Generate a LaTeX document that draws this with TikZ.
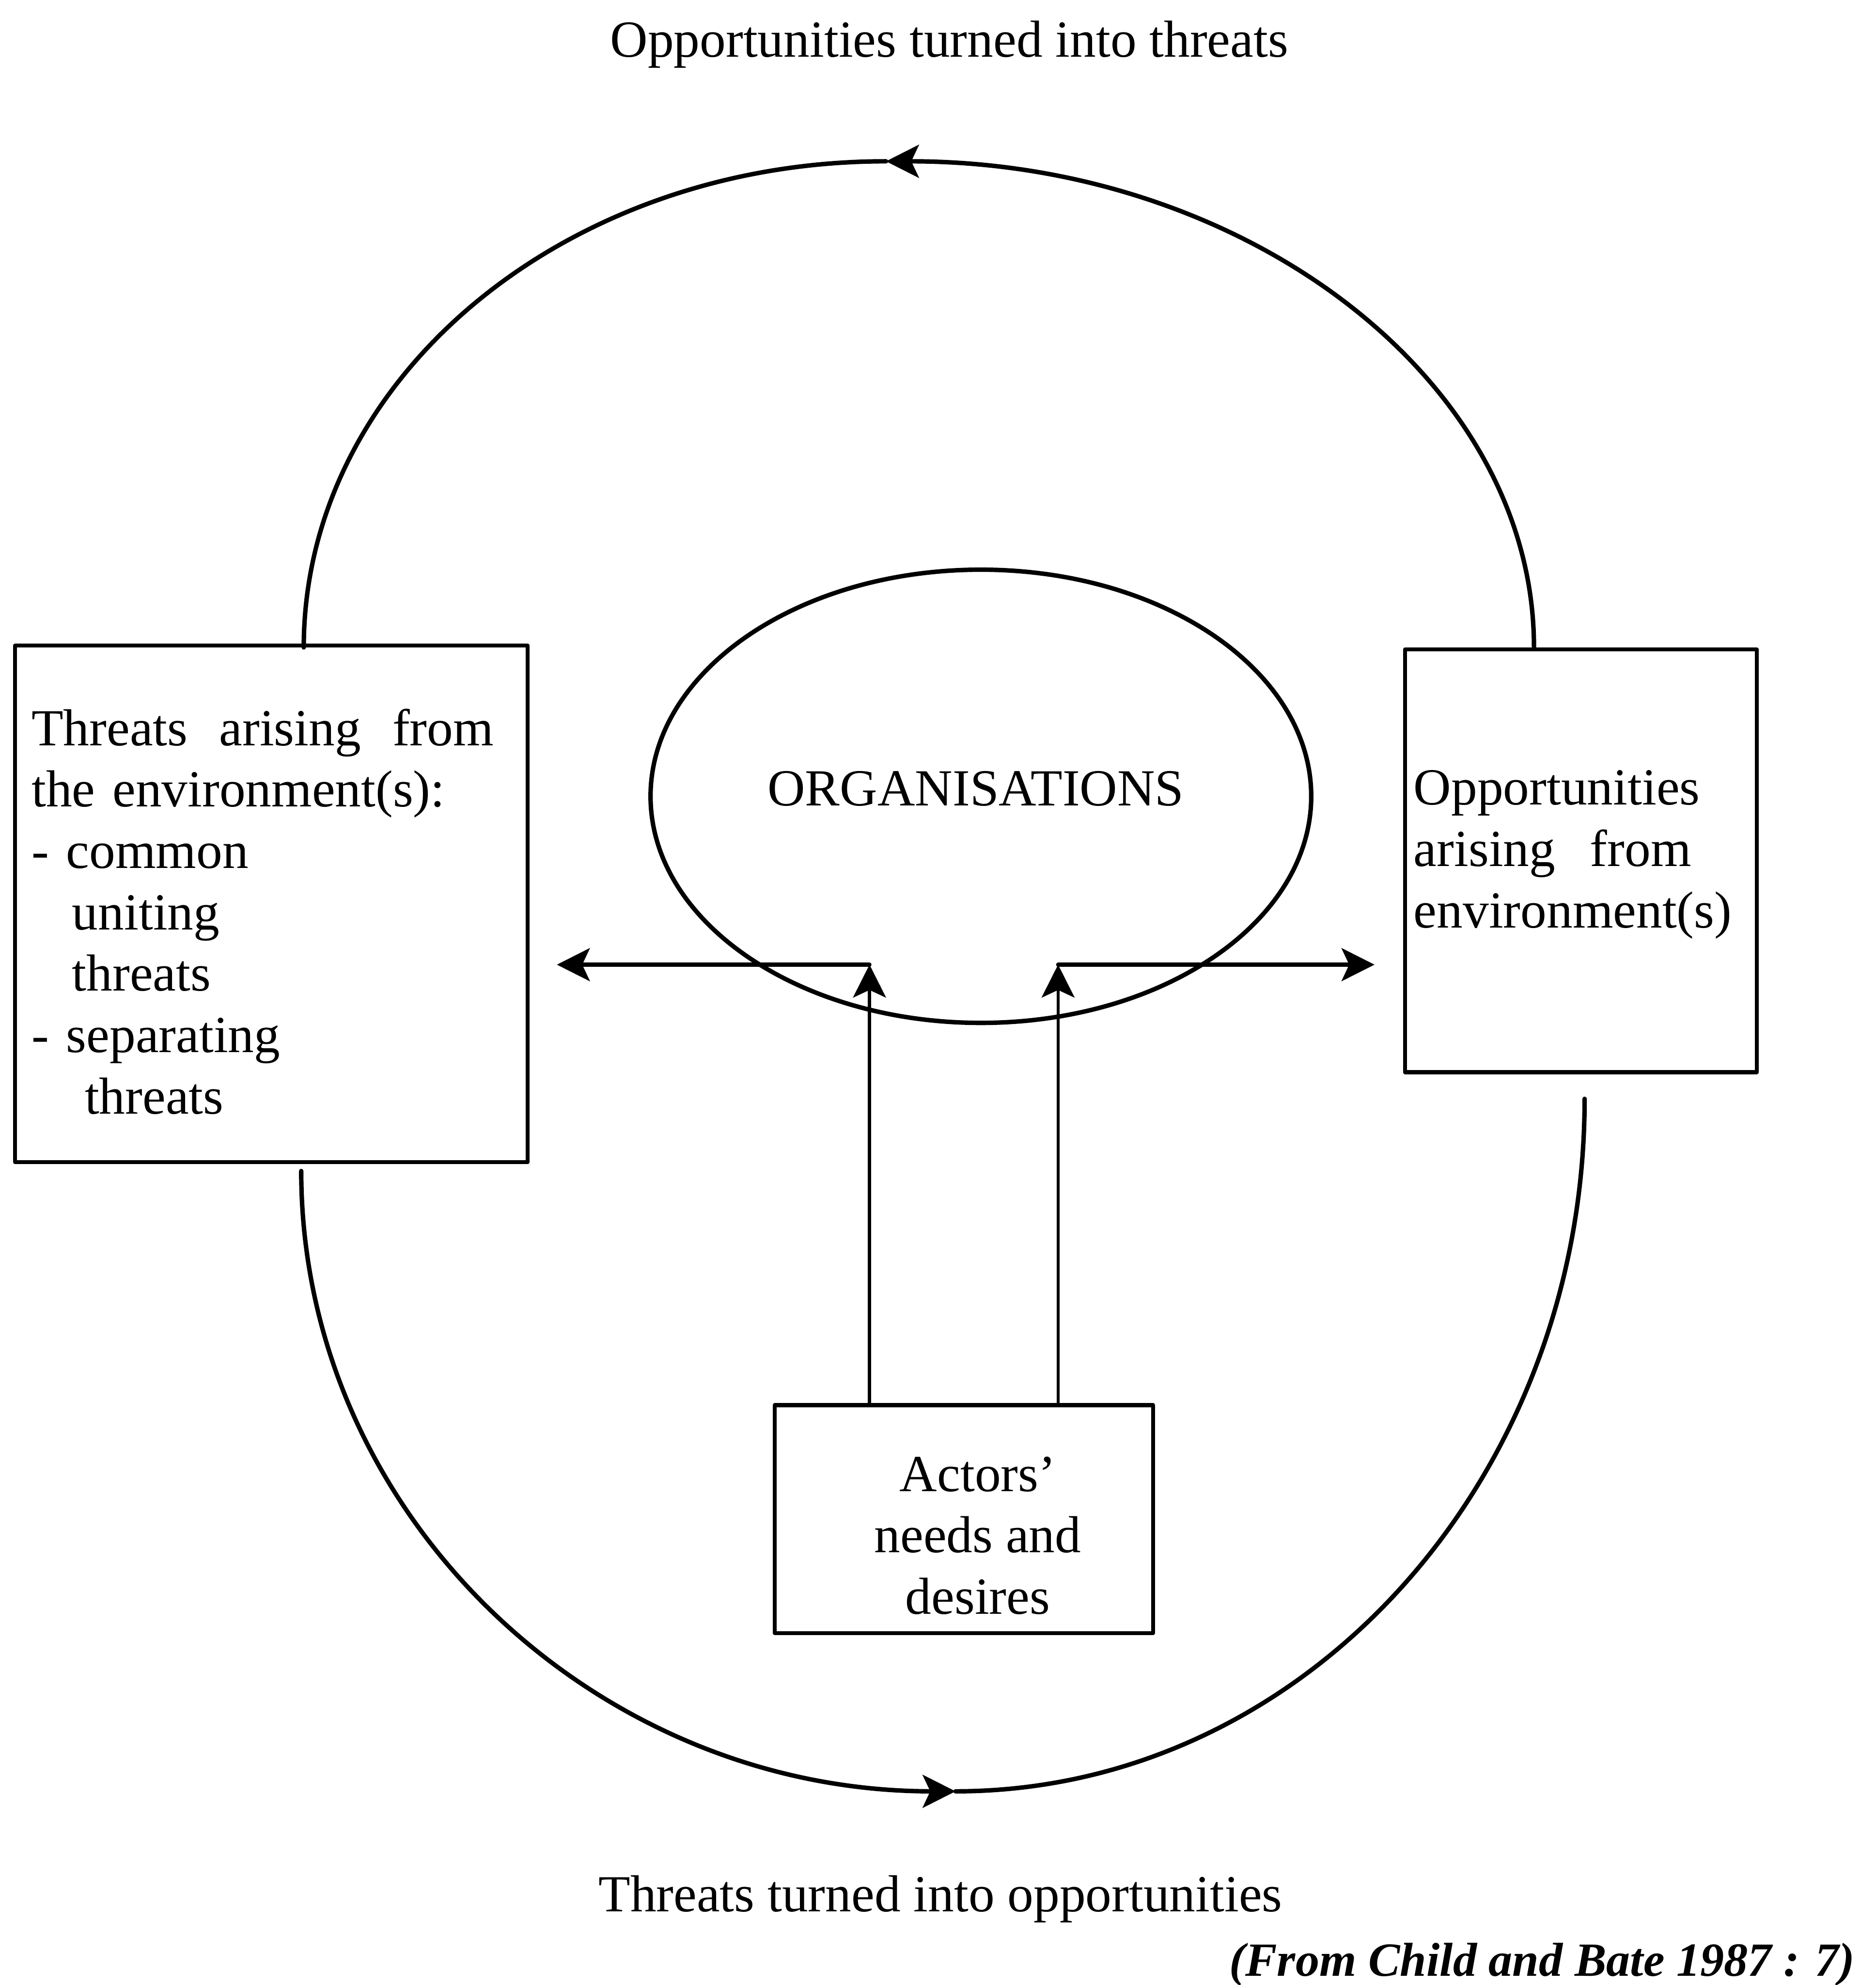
\documentclass[tikz,border=0pt]{standalone}
\usepackage{fontspec}
\setmainfont{Liberation Serif}
\usetikzlibrary{arrows.meta,shapes.geometric}
\begin{document}
\begin{tikzpicture}[font=\fontsize{11.7}{13.8}\selectfont, line join=round, line cap=round,
		>={Stealth[length=2.6mm,width=2.6mm,inset=0.6mm]},
		box/.style={draw, line width=0.9pt, rectangle},
		loop/.style={line width=1pt}]
		\useasboundingbox (0,0) rectangle (14.82,-15.68);
		% organisations and the three boxes
		\node[draw, ellipse, line width=1pt, minimum width=5.22cm, minimum height=3.58cm] (org) at (7.75,-6.29) {};
		\node (orgtext) at ([xshift=-0.04cm, yshift=0.06cm]org.center) {ORGANISATIONS};
		\node[box, minimum width=4.05cm, minimum height=4.08cm] (threat) at (2.145,-7.14) {};
		\node[text width=3.65cm, align=left, inner sep=0pt] (threattext) at ([xshift=-0.07cm, yshift=-0.06cm]threat.center) {Threats\hfill arising\hfill from\\the environment(s):\\- common\\\hspace*{3.2mm}uniting\\\hspace*{3.2mm}threats\\- separating\\\hspace*{4.2mm}threats};
		\node[box, minimum width=2.78cm, minimum height=3.34cm] (opp) at (12.49,-6.80) {};
		\node[text width=2.64cm, align=left, inner sep=0pt] (opptext) at ([yshift=0.05cm]opp.center) {Opportunities\\arising\ \ from\\environment(s)};
		\node[box, minimum width=2.99cm, minimum height=1.80cm] (actors) at (7.615,-12.00) {};
		\node[align=center, inner sep=0pt] (actorstext) at ([xshift=0.11cm, yshift=-0.13cm]actors.center) {Actors’\\needs and\\desires};
		% needs and desires pushed into the environments
		\coordinate (jl) at (6.87,-7.62);
		\coordinate (jr) at (8.36,-7.62);
		\coordinate (lt) at (4.40,-7.62);
		\coordinate (rt) at (10.86,-7.62);
		\draw[->, line width=0.7pt] (actors.north -| jl) -- (jl);
		\draw[->, line width=0.7pt] (actors.north -| jr) -- (jr);
		\draw[->, line width=0.9pt] (jl) -- (lt);
		\draw[->, line width=0.9pt] (jr) -- (rt);
		% the two loops
		\coordinate (tl) at (2.40,0);
		\coordinate (tr) at (12.12,0);
		\coordinate (bl) at (2.38,-9.25);
		\coordinate (br) at (12.52,-8.68);
		\draw[loop, ->] (opp.north -| tr) arc[start angle=0, end angle=90, x radius=5.12, y radius=3.84] coordinate (tm);
		\draw[loop] (tm) arc[start angle=90, end angle=180, x radius=4.60, y radius=3.84];
		\draw[loop, ->] (bl) arc[start angle=180, end angle=270, x radius=5.17, y radius=4.90] coordinate (bm);
		\draw[loop] (bm) arc[start angle=270, end angle=360, x radius=4.97, y radius=5.47];
		% captions
		\node (totop) at (7.50,-0.35) {Opportunities turned into threats};
		\node (tobot) at (7.43,-15.00) {Threats turned into opportunities};
		\node[anchor=east, font=\fontsize{10.7}{13.8}\selectfont\bfseries\itshape] (src) at (14.78,-15.52) {(From Child and Bate 1987 : 7)};
\end{tikzpicture}
\end{document}
